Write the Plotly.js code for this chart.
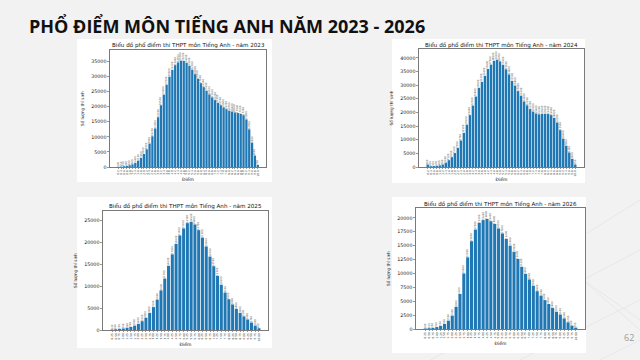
<!DOCTYPE html>
<html>
<head>
<meta charset="utf-8">
<script src="https://cdn.plot.ly/plotly-3.0.1.min.js"></script>
<style>
html,body{margin:0;padding:0;background:#f2f2f2;}
#chart{width:640px;height:360px;}
</style>
</head>
<body>
<div id="chart"></div>
<script>
// ---- Data ----
const slideTitle = "PHỔ ĐIỂM MÔN TIẾNG ANH NĂM 2023 - 2026";
const chartTitles = [
  "Biểu đồ phổ điểm thi THPT môn Tiếng Anh - năm 2023",
  "Biểu đồ phổ điểm thi THPT môn Tiếng Anh - năm 2024",
  "Biểu đồ phổ điểm thi THPT môn Tiếng Anh - năm 2025",
  "Biểu đồ phổ điểm thi THPT môn Tiếng Anh - năm 2026"
];
const xTitle = "Điểm";
const yTitle = "Số lượng thí sinh";
const pageNumber = "62";

const scoresStep02 = ["0.2","0.4","0.6","0.8","1.0","1.2","1.4","1.6","1.8","2.0",
  "2.2","2.4","2.6","2.8","3.0","3.2","3.4","3.6","3.8","4.0",
  "4.2","4.4","4.6","4.8","5.0","5.2","5.4","5.6","5.8","6.0",
  "6.2","6.4","6.6","6.8","7.0","7.2","7.4","7.6","7.8","8.0",
  "8.2","8.4","8.6","8.8","9.0","9.2","9.4","9.6","9.8","10.0"];
const scoresStep025 = ["0.25","0.50","0.75","1.00","1.25","1.50","1.75","2.00",
  "2.25","2.50","2.75","3.00","3.25","3.50","3.75","4.00",
  "4.25","4.50","4.75","5.00","5.25","5.50","5.75","6.00",
  "6.25","6.50","6.75","7.00","7.25","7.50","7.75","8.00",
  "8.25","8.50","8.75","9.00","9.25","9.50","9.75","10.00"];

const counts2023 = [100,150,250,400,600,900,1400,2100,3000,4300,
  5900,7800,10200,12800,16500,20500,24000,27300,30000,32200,
  33800,34700,35300,35200,34600,33600,32300,30800,29300,27800,
  26500,25300,24100,23100,22200,21300,20500,19800,19200,18700,
  18400,18100,17900,17600,17200,15800,12500,8000,3800,700];
const counts2024 = [900,300,350,450,600,900,1600,2500,3600,5100,
  7000,9700,12500,15500,19000,22500,25800,29000,31200,33400,
  35900,37500,38900,39300,38700,37400,35800,33900,31500,29800,
  27800,26100,24000,22600,21200,20300,19600,19300,19500,19500,
  19400,19000,18000,16300,13500,10400,7800,5300,3000,850];
const counts2025 = [120,180,250,350,500,700,1000,1400,2000,2800,
  3900,5200,6900,9000,11700,14600,17200,19600,21500,23100,
  24300,24600,24000,22700,21000,19000,16700,14500,12300,10300,
  8500,7000,5800,4800,3900,3100,2400,1700,1000,400];
const counts2026 = [100,150,200,350,550,900,1500,2400,4000,6300,
  10000,12900,15800,17900,19100,19600,19800,19400,18900,18100,
  17200,16200,15000,13900,12600,11200,9900,8900,7800,6800,
  6000,5200,4500,3800,3100,2600,1900,1200,600,250];

const seriesList = [
  {x: scoresStep02, y: counts2023, dtick: 5000},
  {x: scoresStep02, y: counts2024, dtick: 5000},
  {x: scoresStep025, y: counts2025, dtick: 5000},
  {x: scoresStep025, y: counts2026, dtick: 2500}
];

// ---- Layout geometry (pixels) ----
const W = 640, H = 360;
const axesBox = [
  {l:110, r:266, t:50, b:167},
  {l:419, r:584, t:49, b:167},
  {l:103, r:268, t:211, b:330},
  {l:416, r:585, t:208, b:329}
];
const panels = [
  {l:77, r:272, t:39, b:182},
  {l:392, r:585, t:39, b:183},
  {l:77, r:272, t:197, b:348},
  {l:392, r:586, t:197, b:353}
];
const titleY = [45, 45, 206, 204];

const px = v => v / W;
const py = v => 1 - v / H;

const data = [];
const layout = {
  width: W, height: H,
  margin: {l:0, r:0, t:0, b:0},
  paper_bgcolor: '#f2f2f2',
  plot_bgcolor: '#ffffff',
  showlegend: false,
  bargap: 0.2,
  font: {family: 'DejaVu Sans', color: '#000'},
  shapes: [],
  annotations: []
};

// faint decorative diagonal lines
const deco = [
  [430,360,640,250],[520,360,640,300],[560,260,640,330],[470,200,640,320],
  [600,360,640,340],[480,300,640,200]
];
deco.forEach(d => layout.shapes.push({
  type:'line', xref:'paper', yref:'paper', layer:'below',
  x0:px(d[0]), y0:py(d[1]), x1:px(d[2]), y1:py(d[3]),
  line:{color:'#e7e7e7', width:1}
}));

panels.forEach(p => layout.shapes.push({
  type:'rect', xref:'paper', yref:'paper', layer:'below',
  x0:px(p.l), x1:px(p.r), y0:py(p.b), y1:py(p.t),
  fillcolor:'#ffffff', line:{width:0}
}));

seriesList.forEach((s, i) => {
  const n = i + 1;
  const xa = 'x' + (n === 1 ? '' : n), ya = 'y' + (n === 1 ? '' : n);
  data.push({
    type:'bar', x:s.x, y:s.y, xaxis:xa, yaxis:ya,
    marker:{color:'#1f77b4', line:{width:0}},
    text:s.y.map(v => String(v)), textposition:'outside', textangle:-90,
    constraintext:'none', cliponaxis:false,
    textfont:{size:2.6, color:'#555', family:'DejaVu Sans'},
    hoverinfo:'skip'
  });
  const box = axesBox[i];
  const nb = s.x.length;
  const pad = 0.05 * (nb - 1 + 0.8) + 0.4;
  const ymax = Math.max(...s.y) * 1.1;
  layout['xaxis' + (n === 1 ? '' : n)] = {
    domain:[px(box.l), px(box.r)], anchor:ya, type:'category',
    range:[-pad, nb - 1 + pad], tickangle:-90,
    tickmode:'array', tickvals:s.x, ticktext:s.x,
    tickfont:{size:2.8, color:'#222'}, ticks:'outside', ticklen:1.5, tickwidth:0.5,
    tickcolor:'#333', showline:true, mirror:true, linecolor:'#222', linewidth:0.6,
    showgrid:false, zeroline:false,
    title:{text:xTitle, font:{size:4.5, color:'#111'}, standoff:2}
  };
  layout['yaxis' + (n === 1 ? '' : n)] = {
    domain:[py(box.b), py(box.t)], anchor:xa,
    range:[0, ymax], dtick:s.dtick, tick0:0, tickformat:'d',
    tickfont:{size:4.8, color:'#222'}, ticks:'outside', ticklen:2, tickwidth:0.5,
    tickcolor:'#333', showline:true, mirror:true, linecolor:'#222', linewidth:0.6,
    showgrid:false, zeroline:false,
    title:{text:yTitle, font:{size:4.2, color:'#111'}, standoff:6}
  };
  layout.annotations.push({
    xref:'paper', yref:'paper', x:px((box.l + box.r) / 2), y:py(titleY[i]),
    text:chartTitles[i], showarrow:false, xanchor:'center', yanchor:'middle',
    font:{size:5.6, color:'#111', family:'DejaVu Sans'}
  });
});

layout.annotations.push({
  xref:'paper', yref:'paper', x:px(27), y:py(26), xanchor:'left', yanchor:'middle',
  text:'<b>' + slideTitle + '</b>', showarrow:false,
  font:{size:18, color:'#111', family:'Open Sans'}
});
layout.annotations.push({
  xref:'paper', yref:'paper', x:px(629), y:py(337), xanchor:'center', yanchor:'middle',
  text:pageNumber, showarrow:false,
  font:{size:9, color:'#9a9a9a', family:'Open Sans'}
});

Plotly.newPlot('chart', data, layout, {staticPlot:true, displayModeBar:false});
</script>
</body>
</html>
